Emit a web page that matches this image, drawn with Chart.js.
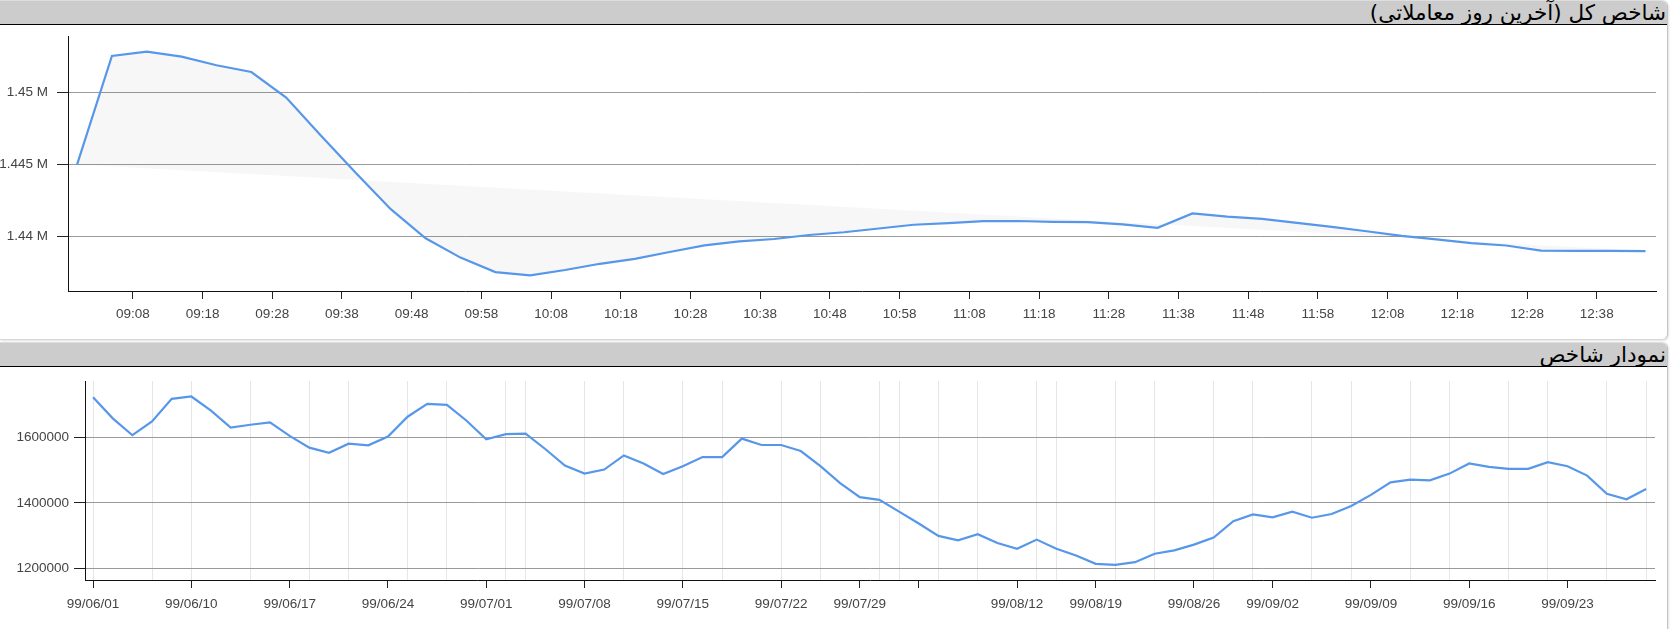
<!DOCTYPE html>
<html>
<head>
<meta charset="utf-8">
<script src="https://cdn.jsdelivr.net/npm/chart.js@4.4.0/dist/chart.umd.min.js"></script>
<style>
    html, body {
        margin: 0;
        padding: 0;
        background: #fff;
        width: 1672px;
        height: 629px;
        overflow: hidden;
    }
    .panel {
        position: absolute;
        left: 0;
        width: 1667px;
        border-right: 1px solid #c4c4c4;
        border-bottom: 1px solid #d8d8d8;
        border-radius: 0 6px 6px 0;
        box-shadow: 1px 1px 2px rgba(0, 0, 0, 0.12);
        background: #fff;
    }
    .panel-header {
        position: relative;
        height: 23px;
        background: #cccccc;
        border-top: 1px solid #dedede;
        border-bottom: 1.5px solid #000;
        border-radius: 0 6px 0 0;
        direction: rtl;
        text-align: right;
        font-family: "DejaVu Sans", sans-serif;
        font-size: 21.5px;
        line-height: 24px;
        color: #000;
        padding-right: 1px;
        white-space: nowrap;
        z-index: 1;
    }
    canvas {
        display: block;
    }
</style>
</head>
<body>
<div class="panel" id="panel-intraday" style="top:0; height:339px;">
    <div class="panel-header">شاخص کل (آخرین روز معاملاتی)</div>
    <canvas id="intradayChart" width="1667" height="314"></canvas>
</div>
<div class="panel" id="panel-daily" style="top:342px; height:300px;">
    <div class="panel-header">نمودار شاخص</div>
    <canvas id="dailyChart" width="1667" height="262"></canvas>
</div>

<script>
// --- last trading day (intraday, 5 minute steps)
const intradayTimes = [
    '09:00', '09:05', '09:10', '09:15', '09:20', '09:25', '09:30', '09:35', '09:40', '09:45',
    '09:50', '09:55', '10:00', '10:05', '10:10', '10:15', '10:20', '10:25', '10:30', '10:35',
    '10:40', '10:45', '10:50', '10:55', '11:00', '11:05', '11:10', '11:15', '11:20', '11:25',
    '11:30', '11:35', '11:40', '11:45', '11:50', '11:55', '12:00', '12:05', '12:10', '12:15',
    '12:20', '12:25', '12:30', '12:35', '12:40', '12:45'
];
const intradayValues = [
    1445000, 1452540, 1452850, 1452500, 1451900, 1451430, 1449650, 1447000, 1444420, 1441900,
    1439880, 1438540, 1437530, 1437310, 1437680, 1438110, 1438450, 1438930, 1439390, 1439670,
    1439830, 1440110, 1440300, 1440560, 1440820, 1440930, 1441070, 1441080, 1441020, 1441000,
    1440850, 1440610, 1441610, 1441380, 1441230, 1440950, 1440680, 1440370, 1440050, 1439800,
    1439540, 1439380, 1439020, 1439010, 1439000, 1438990
];
const intradayTickLabels = [
    '09:08', '09:18', '09:28', '09:38', '09:48', '09:58', '10:08', '10:18', '10:28', '10:38', '10:48',
    '10:58', '11:08', '11:18', '11:28', '11:38', '11:48', '11:58', '12:08', '12:18', '12:28', '12:38'
];
const intradayYTicks = [1440000, 1445000, 1450000];

// --- index history (one point per trading day)
const dailyValues = [
    1723700, 1658800, 1607200, 1649500, 1718600, 1725800, 1682500, 1630900, 1639200, 1646400,
    1605200, 1569100, 1553600, 1581400, 1576300, 1603100, 1663900, 1703100, 1700000, 1651500,
    1594800, 1610300, 1612400, 1565000, 1514400, 1489700, 1502000, 1545400, 1520600, 1488700,
    1512400, 1540200, 1540200, 1596900, 1577300, 1577300, 1558800, 1512400, 1460800, 1417500,
    1409300, 1373200, 1337100, 1299000, 1285600, 1304100, 1277300, 1259800, 1287700, 1259800,
    1239200, 1213400, 1210300, 1218600, 1244300, 1254600, 1272200, 1293800, 1344300, 1365000,
    1355700, 1373200, 1354600, 1366000, 1390700, 1424700, 1462900, 1471100, 1469100, 1489700,
    1520600, 1510300, 1504100, 1504100, 1524700, 1512400, 1483500, 1427800, 1411300, 1442300
];
const dailyTickIndex = [0, 5, 10, 15, 20, 25, 30, 35, 39, 42, 47, 51, 56, 60, 65, 70, 75];
const dailyTickLabels = [
    '99/06/01', '99/06/10', '99/06/17', '99/06/24', '99/07/01', '99/07/08', '99/07/15', '99/07/22',
    '99/07/29', '', '99/08/12', '99/08/19', '99/08/26', '99/09/02', '99/09/09', '99/09/16', '99/09/23'
];
const dailyGridIndex = [
    0, 3, 5, 8, 11, 13, 16, 18, 21, 22, 25, 27, 30, 32, 35, 37, 40, 41, 43, 45,
    48, 49, 52, 54, 57, 59, 62, 64, 67, 69, 72, 74, 77, 79
];
const dailyYTicks = [1200000, 1400000, 1600000];

const LINE_COLOR = '#5797ea';
const TICK_FONT = { family: '"Liberation Sans", Arial, sans-serif', size: 13.5 };
const TICK_COLOR = '#444';
const CLEAR = 'rgba(0,0,0,0)';

Chart.defaults.animation = false;
Chart.defaults.plugins.legend.display = false;
Chart.defaults.plugins.tooltip.enabled = false;

/**
 * Converts a 'HH:MM' string to minutes after midnight.
 */
function toMinutes(t) {
    const [h, m] = t.split(':').map(Number);
    return h * 60 + m;
}

/**
 * Pins an axis to a fixed size and drops the label overflow padding,
 * so the plot area is set by layout.padding alone.
 */
function fixAxis(size) {
    return scale => {
        if (scale.isHorizontal()) {
            scale.height = size;
        } else {
            scale.width = size;
        }
        scale.paddingTop = 0;
        scale.paddingBottom = 0;
        scale.paddingLeft = 0;
        scale.paddingRight = 0;
    };
}

/**
 * Draws the intraday chart: line plus the light polygon closed by the first-last chord.
 */
function initializeIntradayChart() {
    const ctx = document.getElementById('intradayChart');
    const points = intradayTimes.map((t, i) => ({ x: toMinutes(t), y: intradayValues[i] }));
    const chord = [points[0], points[points.length - 1]];

    new Chart(ctx, {
        type: 'line',
        data: {
            datasets: [{
                data: points,
                borderColor: LINE_COLOR,
                borderWidth: 2.2,
                pointRadius: 0,
                tension: 0,
                fill: '+1',
                backgroundColor: 'rgba(0, 0, 0, 0.03)'
            }, {
                data: chord,
                borderWidth: 0,
                borderColor: CLEAR,
                pointRadius: 0,
                fill: false
            }]
        },
        options: {
            responsive: false,
            devicePixelRatio: 1,
            layout: { padding: { top: 11, right: 11, left: 0, bottom: 0 } },
            scales: {
                x: {
                    type: 'linear',
                    min: 538.7,
                    max: 766.5,
                    afterBuildTicks: scale => {
                        scale.ticks = intradayTickLabels.map(l => ({ value: toMinutes(l) }));
                    },
                    afterFit: fixAxis(48),
                    ticks: {
                        autoSkip: false,
                        maxRotation: 0,
                        padding: 7,
                        color: TICK_COLOR,
                        font: TICK_FONT,
                        callback: (v, i) => intradayTickLabels[i]
                    },
                    grid: { drawOnChartArea: false, tickLength: 8, tickColor: '#222' },
                    border: { color: '#111', width: 1 }
                },
                y: {
                    min: 1436220,
                    max: 1453930,
                    afterBuildTicks: scale => {
                        scale.ticks = intradayYTicks.map(v => ({ value: v }));
                    },
                    afterFit: fixAxis(68),
                    ticks: {
                        padding: 9,
                        color: TICK_COLOR,
                        font: TICK_FONT,
                        callback: v => (v / 1e6) + ' M'
                    },
                    grid: { color: '#9a9a9a', tickLength: 11, tickColor: '#222' },
                    border: { color: '#111', width: 1 }
                }
            }
        }
    });
}

/**
 * Draws the daily index history chart.
 */
function initializeDailyChart() {
    const ctx = document.getElementById('dailyChart');
    const points = dailyValues.map((v, i) => ({ x: i, y: v }));
    const xTicks = Array.from(new Set([...dailyGridIndex, ...dailyTickIndex])).sort((a, b) => a - b);

    new Chart(ctx, {
        type: 'line',
        data: {
            datasets: [{
                data: points,
                borderColor: LINE_COLOR,
                borderWidth: 2.2,
                pointRadius: 0,
                tension: 0,
                fill: false
            }]
        },
        options: {
            responsive: false,
            devicePixelRatio: 1,
            layout: { padding: { top: 14, right: 12, left: 0, bottom: 0 } },
            scales: {
                x: {
                    type: 'linear',
                    min: -0.41,
                    max: 79.45,
                    afterBuildTicks: scale => {
                        scale.ticks = xTicks.map(v => ({ value: v }));
                    },
                    afterFit: fixAxis(49),
                    ticks: {
                        autoSkip: false,
                        maxRotation: 0,
                        padding: 8,
                        color: TICK_COLOR,
                        font: TICK_FONT,
                        callback: v => {
                            const k = dailyTickIndex.indexOf(v);
                            return k >= 0 ? dailyTickLabels[k] : '';
                        }
                    },
                    grid: {
                        tickLength: 8,
                        color: c => dailyGridIndex.includes(c.tick && c.tick.value) ? '#e6e6e6' : CLEAR,
                        tickColor: c => dailyTickIndex.includes(c.tick && c.tick.value) ? '#222' : CLEAR
                    },
                    border: { color: '#111', width: 1 }
                },
                y: {
                    min: 1164000,
                    max: 1773200,
                    afterBuildTicks: scale => {
                        scale.ticks = dailyYTicks.map(v => ({ value: v }));
                    },
                    afterFit: fixAxis(85),
                    ticks: {
                        padding: 5,
                        color: TICK_COLOR,
                        font: TICK_FONT,
                        callback: v => String(v)
                    },
                    grid: { color: '#9a9a9a', tickLength: 11, tickColor: '#222' },
                    border: { color: '#111', width: 1 }
                }
            }
        }
    });
}

document.addEventListener('DOMContentLoaded', () => {
    initializeIntradayChart();
    initializeDailyChart();
});
</script>
</body>
</html>
